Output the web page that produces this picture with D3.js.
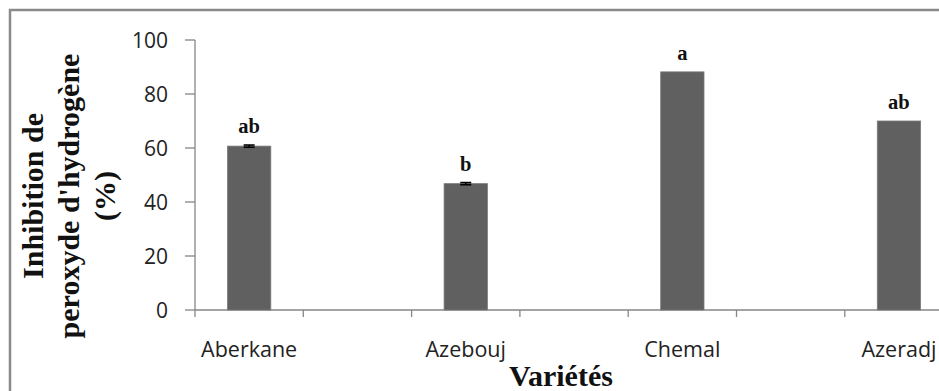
<!DOCTYPE html>
<html>
<head>
<meta charset="utf-8">
<script src="https://cdn.jsdelivr.net/npm/d3@7"></script>
<style>
  html, body { margin: 0; padding: 0; background: #fff; }
  svg { display: block; }
</style>
</head>
<body>
<svg id="chart" width="939" height="391"></svg>
<script>
// Varieties, mean inhibition (%), standard error and significance letters
const varietes = ["Aberkane", "Azebouj", "Chemal", "Azeradj"];
const inhibition = [60.7, 46.8, 88.2, 70.0];
const erreurs = [0.4, 0.4, 0, 0];
const lettres = ["ab", "b", "a", "ab"];
const yTicks = [0, 20, 40, 60, 80, 100];

// Each variety occupies a slot followed by an empty slot (category axis with gaps)
const slots = varietes.flatMap(v => [v, v + "\u00A0"]);

const svg = d3.select("#chart");
const axisColor = "#868686";
const tickFont = "'Open Sans', 'Liberation Sans', sans-serif";
const serif = "'Liberation Serif', 'Times New Roman', serif";

// Outer chart frame
svg.append("rect")
  .attr("x", 10).attr("y", 10)
  .attr("width", 1100).attr("height", 500)
  .attr("fill", "none")
  .attr("stroke", "#8a8a8a")
  .attr("stroke-width", 2.5);

const x = d3.scaleBand()
  .domain(slots)
  .range([195, 195 + 8 * 108.3])
  .padding(0);

const y = d3.scaleLinear()
  .domain([0, 100])
  .range([310, 40]);

// Y axis
const gy = svg.append("g").attr("transform", "translate(195,0)");
gy.append("line")
  .attr("x1", 0).attr("x2", 0)
  .attr("y1", y(100)).attr("y2", y(0))
  .attr("stroke", axisColor).attr("stroke-width", 1.3);
gy.selectAll("line.tick").data(yTicks).join("line")
  .attr("class", "tick")
  .attr("x1", -10).attr("x2", 0)
  .attr("y1", d => y(d)).attr("y2", d => y(d))
  .attr("stroke", axisColor).attr("stroke-width", 1.3);
gy.selectAll("text").data(yTicks).join("text")
  .attr("x", -27)
  .attr("y", d => y(d) + 8)
  .attr("text-anchor", "end")
  .attr("font-family", tickFont)
  .attr("font-size", 21)
  .attr("fill", "#222")
  .text(d => d);

// X axis with tick marks on slot boundaries
const boundaries = d3.range(slots.length + 1).map(i => x.range()[0] + i * x.bandwidth());
const gx = svg.append("g");
gx.append("line")
  .attr("x1", 195).attr("x2", x.range()[1])
  .attr("y1", y(0)).attr("y2", y(0))
  .attr("stroke", axisColor).attr("stroke-width", 1.3);
gx.selectAll("line.tick").data(boundaries).join("line")
  .attr("class", "tick")
  .attr("x1", d => d).attr("x2", d => d)
  .attr("y1", y(0)).attr("y2", y(0) + 7)
  .attr("stroke", axisColor).attr("stroke-width", 1.3);
gx.selectAll("text").data(varietes).join("text")
  .attr("x", d => x(d) + x.bandwidth() / 2)
  .attr("y", 357)
  .attr("text-anchor", "middle")
  .attr("font-family", tickFont)
  .attr("font-size", 21.5)
  .attr("fill", "#222")
  .text(d => d);

// Bars
const barW = x.bandwidth() * 0.4;
const data = varietes.map((v, i) => ({ v, val: inhibition[i], err: erreurs[i], lettre: lettres[i] }));
svg.append("g").selectAll("rect").data(data).join("rect")
  .attr("x", d => x(d.v) + (x.bandwidth() - barW) / 2)
  .attr("y", d => y(d.val))
  .attr("width", barW)
  .attr("height", d => y(0) - y(d.val))
  .attr("fill", "#606060")
  .attr("stroke", "#7a7a7a")
  .attr("stroke-width", 0.8);

// Error bars
const eb = svg.append("g").selectAll("g").data(data.filter(d => d.err > 0)).join("g")
  .attr("stroke", "#000").attr("stroke-width", 1.6);
eb.append("line")
  .attr("x1", d => x(d.v) + x.bandwidth() / 2).attr("x2", d => x(d.v) + x.bandwidth() / 2)
  .attr("y1", d => y(d.val - d.err)).attr("y2", d => y(d.val + d.err));
[-1, 1].forEach(s => {
  eb.append("line")
    .attr("x1", d => x(d.v) + x.bandwidth() / 2 - 5.5)
    .attr("x2", d => x(d.v) + x.bandwidth() / 2 + 5.5)
    .attr("y1", d => y(d.val + s * d.err))
    .attr("y2", d => y(d.val + s * d.err));
});

// Significance letters
svg.append("g").selectAll("text").data(data).join("text")
  .attr("x", d => x(d.v) + x.bandwidth() / 2)
  .attr("y", d => y(d.val + d.err) - 12)
  .attr("text-anchor", "middle")
  .attr("font-family", serif)
  .attr("font-weight", "bold")
  .attr("font-size", 20.5)
  .attr("fill", "#111")
  .text(d => d.lettre);

// Axis titles
svg.append("text")
  .attr("x", 561).attr("y", 386)
  .attr("text-anchor", "middle")
  .attr("font-family", serif)
  .attr("font-weight", "bold")
  .attr("font-size", 30)
  .attr("fill", "#111")
  .text("Variétés");

const yTitle = ["Inhibition de", "peroxyde d'hydrogène", "(%)"];
svg.append("g").attr("transform", "rotate(-90)")
  .selectAll("text").data(yTitle).join("text")
  .attr("x", -196)
  .attr("y", (d, i) => 43 + i * 36)
  .attr("text-anchor", "middle")
  .attr("font-family", serif)
  .attr("font-weight", "bold")
  .attr("font-size", 30)
  .attr("fill", "#111")
  .text(d => d);
</script>
</body>
</html>
